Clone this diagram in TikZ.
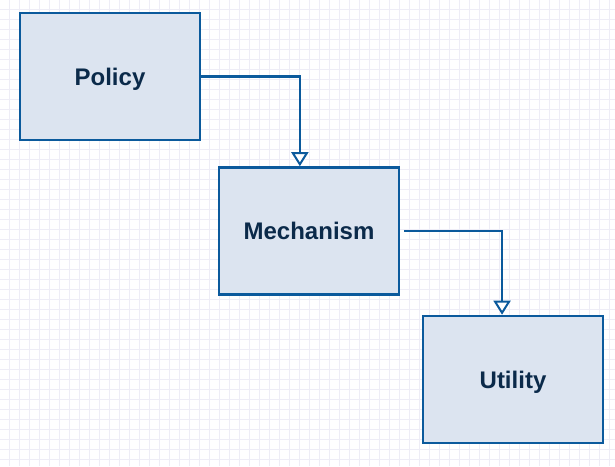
\documentclass[tikz,border=0pt]{standalone}
\usepackage{fontspec}
\setmainfont{Liberation Sans}
\usetikzlibrary{arrows.meta,calc}
\definecolor{boxfill}{HTML}{DCE4F0}
\definecolor{boxline}{HTML}{0B5A9C}
\definecolor{txt}{HTML}{0B2A4A}
\definecolor{gridc}{HTML}{EEEDF6}
\tikzset{
  block/.style={draw=boxline, fill=boxfill, line width=2.6pt, minimum width=180pt, minimum height=127pt, inner sep=0pt, text=txt, text height=17pt, text depth=0pt, font=\fontsize{24}{28}\selectfont\bfseries},
  conn/.style={draw=boxline, line width=2.2pt, -{Triangle[open,fill=white,width=17pt,length=14pt,line width=2pt]}},
}
\begin{document}
\begin{tikzpicture}[x=1pt,y=-1pt]
\useasboundingbox (0,0) rectangle (615,466);
\fill[white] (0,0) rectangle (615,466);
\foreach \i in {0,...,61} \draw[gridc, line width=1pt] (\i*10-0.5,0) -- (\i*10-0.5,466);
\foreach \i in {0,...,46} \draw[gridc, line width=1pt] (0,\i*10-0.5) -- (615,\i*10-0.5);
\node[block] (pol) at (110,76.5) {Policy};
\node[block] (mech) at (309,231) {Mechanism};
\node[block] (util) at (513,379.5) {Utility};
\draw[conn] (pol.east) -| ($(mech.north west)!0.45!(mech.north east)$);
\draw[conn] ([xshift=4pt]mech.east) -| ($(util.north west)!0.44!(util.north east)$);
\end{tikzpicture}
\end{document}
